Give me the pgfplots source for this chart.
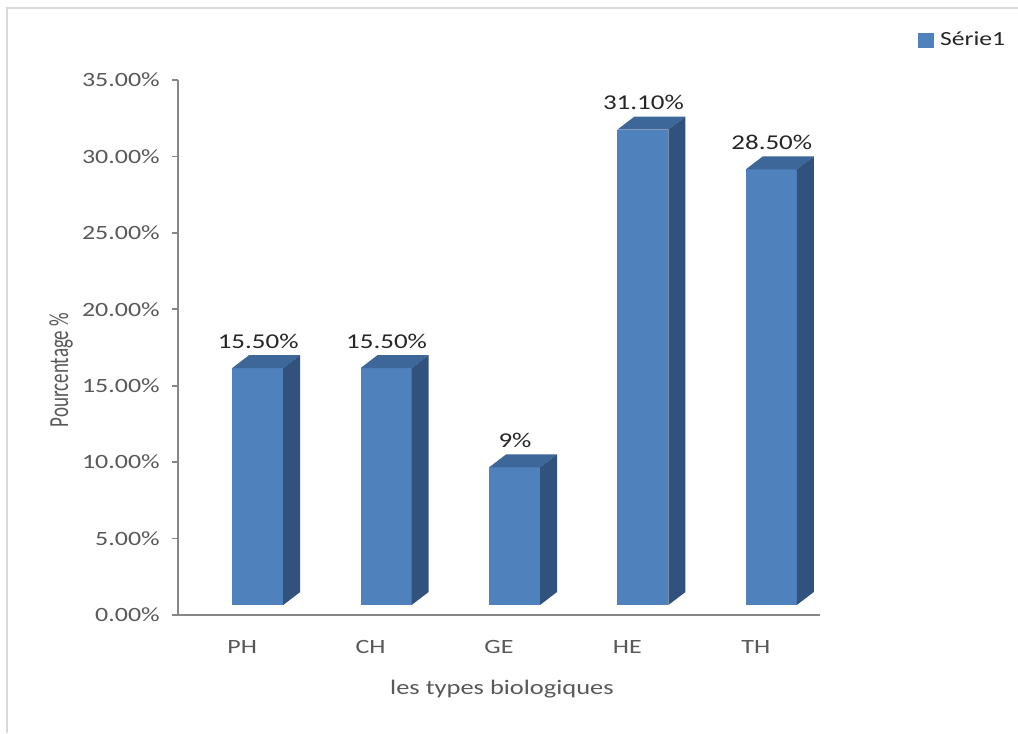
\documentclass[border=0pt]{standalone}
\usepackage{fontspec}
\setmainfont{Carlito}[FakeStretch=1.28]
\newfontfamily\plainfont{Carlito}
\usepackage{pgfplots}
\pgfplotsset{compat=1.18}
\usepackage{pgfplotstable}

\definecolor{barfront}{HTML}{4F81BD}
\definecolor{bartop}{HTML}{3D6699}
\definecolor{barside}{HTML}{30527D}
\definecolor{axisgray}{HTML}{878787}
\definecolor{ticktext}{HTML}{595959}
\definecolor{labeltext}{HTML}{262626}
\definecolor{framegray}{HTML}{D9D9D9}

% biological types, share in percent
\pgfplotstableread{
idx type value label
0   PH   15.5  15.50
1   CH   15.5  15.50
2   GE   9     9
3   HE   31.1  31.10
4   TH   28.5  28.50
}\typestable

% a column drawn with depth: front face, top face and right side
\pgfdeclareplotmark{bar3d}{%
  \pgfmathsetlengthmacro\barh{\barval*11.4643pt}%
  \pgfpathrectanglecorners{\pgfpoint{-7.5pt}{7.5pt-\barh}}{\pgfpoint{30.75pt}{7.5pt}}%
  \pgfsetfillcolor{barfront}\pgfusepath{fill}%
  \pgfpathmoveto{\pgfpoint{-7.5pt}{7.5pt}}%
  \pgfpathlineto{\pgfpoint{30.75pt}{7.5pt}}%
  \pgfpathlineto{\pgfpoint{43.5pt}{17.25pt}}%
  \pgfpathlineto{\pgfpoint{5.25pt}{17.25pt}}%
  \pgfpathclose
  \pgfsetfillcolor{bartop}\pgfusepath{fill}%
  \pgfpathmoveto{\pgfpoint{30.75pt}{7.5pt-\barh}}%
  \pgfpathlineto{\pgfpoint{43.5pt}{17.25pt-\barh}}%
  \pgfpathlineto{\pgfpoint{43.5pt}{17.25pt}}%
  \pgfpathlineto{\pgfpoint{30.75pt}{7.5pt}}%
  \pgfpathclose
  \pgfsetfillcolor{barside}\pgfusepath{fill}%
}

\begin{document}
\begin{tikzpicture}
\fill[white] (0,0) rectangle (763.5pt,549.75pt);
\path[use as bounding box] (0,0) rectangle (763.5pt,549.75pt);
\draw[framegray, line width=1.5pt] (5.25pt,0) -- (5.25pt,543.75pt) -- (763.5pt,543.75pt);

\begin{axis}[
  at={(133.5pt,88.5pt)}, anchor=south west,
  scale only axis,
  x=96.3pt, y=11.4643pt,
  xmin=-0.5, xmax=4.5,
  ymin=0, ymax=35,
  clip=false,
  axis x line*=bottom, axis y line*=left,
  axis line style={draw=axisgray, line width=1.2pt, -},
  xtick={0,1,2,3,4},
  xticklabels={PH,CH,GE,HE,TH},
  x tick style={draw=none},
  ytick={0,5,...,35},
  y tick style={draw=axisgray, line width=1.2pt},
  tick align=outside,
  major tick length=4.5pt,
  /pgf/number format/assume math mode=true,
  yticklabel={\pgfmathprintnumber[fixed,fixed zerofill,precision=2]{\tick}\%},
  yticklabel style={anchor=east, inner sep=0pt, xshift=-9pt,
    font=\fontsize{15.2}{18}\selectfont, text=ticktext},
  xticklabel style={anchor=base, inner sep=0pt, yshift=-24.4pt,
    font=\fontsize{15.2}{18}\selectfont, text=ticktext},
  xlabel={les types biologiques},
  xlabel style={at={(axis description cs:0.5047,-0.1495)}, anchor=base,
    inner sep=0pt, font=\fontsize{15.5}{18}\selectfont, text=ticktext},
  ylabel={\scalebox{1}[1.45]{\plainfont Pourcentage \%}},
  ylabel style={at={(axis description cs:-0.1713,0.458)}, rotate=0, anchor=base,
    inner sep=0pt, font=\fontsize{14.25}{17}\selectfont, text=ticktext},
  legend style={at={(axis description cs:1.1526,1.0748)}, anchor=west,
    draw=none, fill=none, inner sep=0pt,
    font=\fontsize{15}{18}\selectfont, text=labeltext,
    nodes={inner sep=0pt}, column sep=0pt},
  legend cell align=left,
]
\addplot[
  only marks, mark=bar3d,
  visualization depends on={rawy \as \barval},
  point meta=explicit symbolic,
  nodes near coords={\pgfplotspointmeta\%},
  every node near coord/.append style={anchor=base, inner sep=0pt,
    xshift=12pt, yshift=22.5pt, font=\fontsize{15.8}{18}\selectfont, text=labeltext},
  legend image code/.code={\fill[barfront] (0pt,-5.4pt) rectangle (11pt,5.4pt);
    \path (16pt,0pt);},
] table[x=idx, y=value, meta=label] {\typestable};
\addlegendentry{Série1}
\end{axis}
\end{tikzpicture}
\end{document}
